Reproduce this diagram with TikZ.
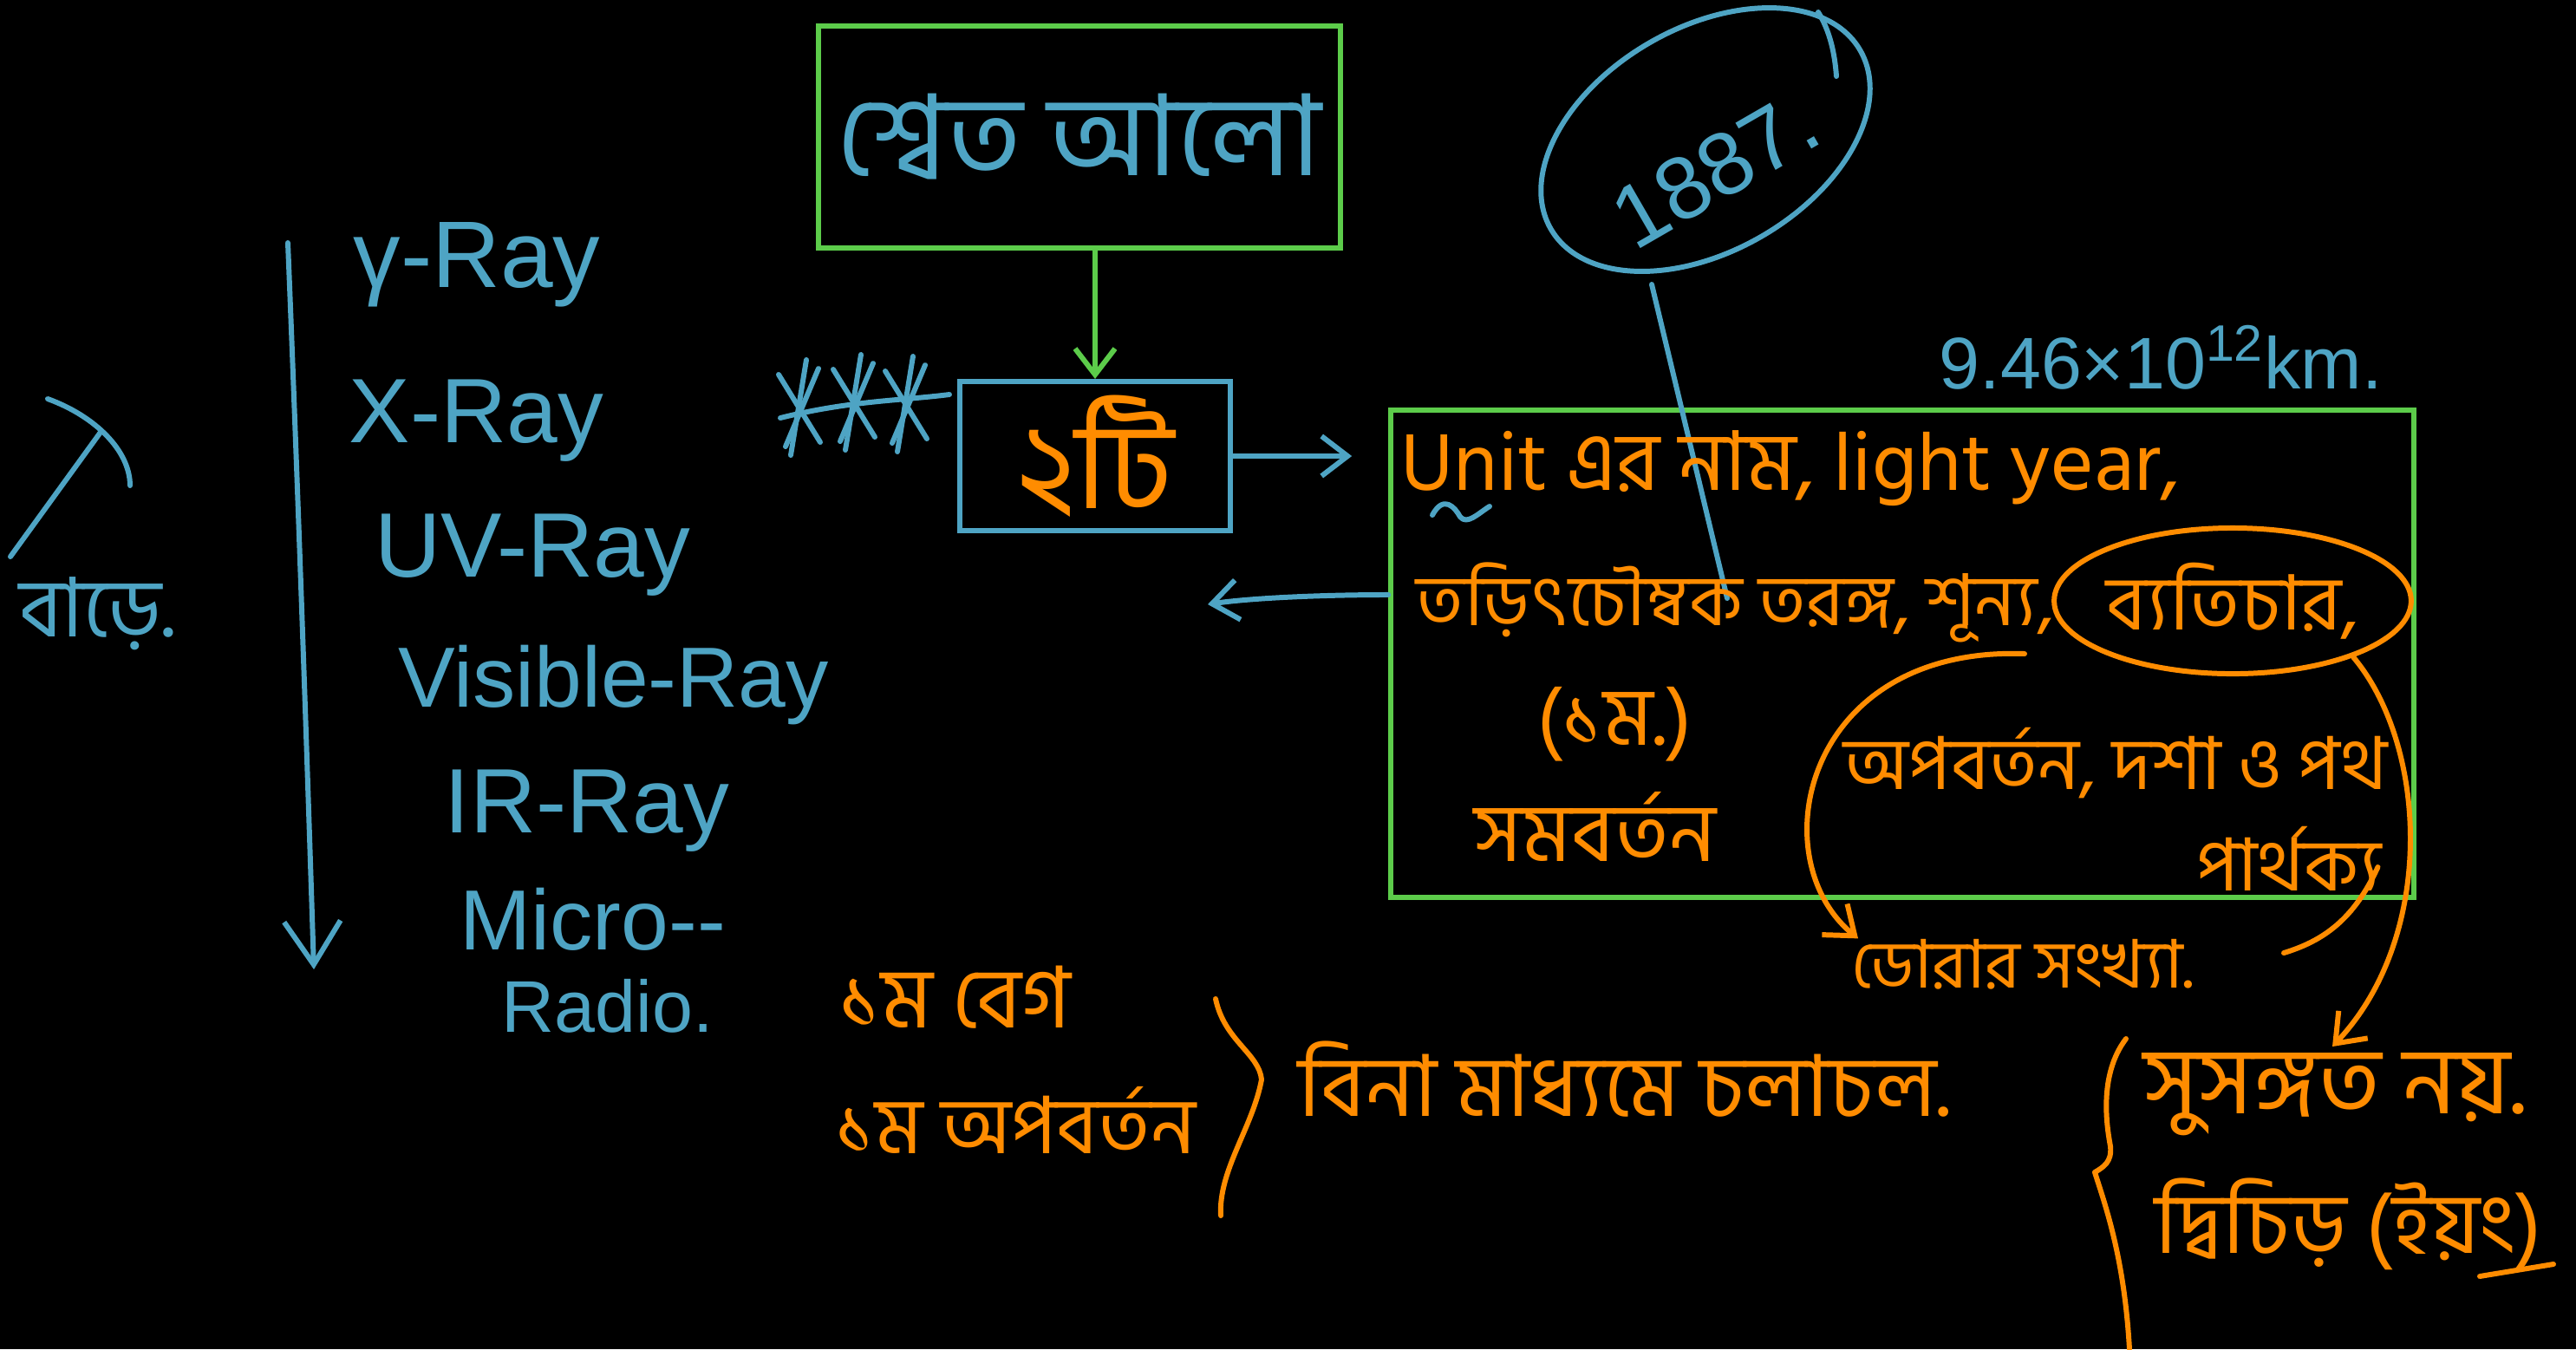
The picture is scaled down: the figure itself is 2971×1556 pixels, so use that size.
\documentclass[tikz,border=0pt]{standalone}
\usepackage{fontspec}
\newfontfamily\bn[Script=Bengali]{Hind Siliguri}
\newfontfamily\lat{Liberation Sans}
\usetikzlibrary{arrows.meta,shapes.geometric}
\definecolor{cy}{RGB}{78,164,196}
\definecolor{gr}{RGB}{92,204,74}
\definecolor{og}{RGB}{255,140,0}
\newcommand{\myfs}[1]{\fontsize{#1}{#1}\selectfont}
\tikzset{
  cl/.style={draw=cy, line width=1.7pt, line cap=round, line join=round},
  ol/.style={draw=og, line width=1.7pt, line cap=round, line join=round},
  gl/.style={draw=gr, line width=1.7pt, line cap=round},
  arw/.style={-{Straight Barb[length=3mm,width=4.6mm]}},
  ctxt/.style={text=cy, inner sep=0pt},
  otxt/.style={text=og, inner sep=0pt},
  gbox/.style={draw=gr, line width=1.7pt, inner sep=0pt},
  cbox/.style={draw=cy, line width=1.7pt, inner sep=0pt},
}
\begin{document}
\begin{tikzpicture}[x=0.01cm,y=-0.01cm]
\fill[black] (0,0) rectangle (2971,1556);
\useasboundingbox (0,0) rectangle (2971,1556);

% ---- left diagonal arrow and label
\coordinate (la0) at (12,642);
\coordinate (la1) at (117,497);
\coordinate (lh0) at (55,460);
\coordinate (lh1) at (150,560);
\draw[cl] (la0) -- (la1);
\draw[cl] (lh0) .. controls (110,480) and (150,520) .. (lh1);
\node[ctxt, font=\bn\myfs{27}] (barhe) at (112,708) {বাড়ে.};

% ---- spectrum list
\coordinate (sp0) at (332,280);
\coordinate (sp1) at (362,1118);
\draw[cl, -{Straight Barb[length=5mm,width=6.5mm]}] (sp0) .. controls (345,600) and (355,900) .. (sp1);
\node[ctxt, anchor=west, font=\lat\myfs{31}] (gam) at (407,305) {γ-Ray};
\node[ctxt, anchor=west, font=\lat\myfs{30}] (xr) at (402,485) {X-Ray};
\node[ctxt, anchor=west, font=\lat\myfs{30}] (uv) at (432,640) {UV-Ray};
\node[ctxt, anchor=west, font=\lat\myfs{28}] (vis) at (459,790) {Visible-Ray};
\node[ctxt, anchor=west, font=\lat\myfs{30}] (ir) at (512,935) {IR-Ray};
\node[ctxt, anchor=west, font=\lat\myfs{28}] (mic) at (530,1060) {Micro--};
\node[ctxt, anchor=west, font=\lat\myfs{24}] (rad) at (578,1160) {Radio.};

% ---- boxes
\node[gbox, minimum width=6.02cm, minimum height=2.56cm, text=cy, font=\bn\myfs{37}] (wl) at (1245,158) {শ্বেত আলো};
\node[cbox, minimum width=3.11cm, minimum height=1.72cm, text=og, font=\bn\myfs{40}] (two) at (1263,526) {২টি};
\node[gbox, minimum width=11.79cm, minimum height=5.61cm] (info) at (2194,754) {};

% ---- stars
\foreach \cx/\cy in {922/470, 985/464, 1045/466} {
  \draw[cl] (\cx+8,\cy-55) -- (\cx-10,\cy+55);
  \draw[cl] (\cx-24,\cy-38) -- (\cx+24,\cy+40);
  \draw[cl] (\cx+22,\cy-45) -- (\cx-16,\cy+45);
}
\draw[cl] (900,482) .. controls (980,462) and (1040,462) .. (1095,455);

% ---- connectors between boxes
\draw[gl, arw] (two.north |- wl.south) -- (two.north);
\draw[cl, arw, shorten >=0.42cm] (two.east) -- (two.east -| info.west);
\coordinate (lft) at (1393,697);
\draw[cl, arw] ([yshift=0.68cm]info.west) .. controls (1520,686) and (1440,690) .. (lft);

% ---- ellipse with year
\coordinate (ellc) at (1967,161);
\draw[cl, rotate around={30:(ellc)}] (ellc) ellipse [x radius=206, y radius=129];
\node[ctxt, rotate=30, font=\lat\myfs{29}] (yr) at (1978,196) {1887.};
\coordinate (ea0) at (2097,14);
\coordinate (ea1) at (2118,88);
\draw[cl] (ea0) .. controls (2110,35) and (2116,60) .. (ea1);
\coordinate (ellfoot) at (1905,328);
\coordinate (tdm) at (1992,690);
\draw[cl] (ellfoot) -- (tdm);

% ---- light year value
\node[ctxt, anchor=west, font=\lat\myfs{24}] (ly) at (2236,412) {9.46×10\textsuperscript{12}km.};

% ---- info box content
\node[otxt, anchor=west, font=\bn\myfs{27}] (l1) at (1615,540) {Unit এর নাম, light year,};
\coordinate (sq0) at (1652,594);
\coordinate (sq1) at (1718,584);
\draw[cl] (sq0) .. controls (1665,570) and (1678,585) .. (1684,596) .. controls (1692,606) and (1705,592) .. (sq1);
\node[otxt, anchor=west, font=\bn\myfs{23.5}] (l2) at (1633,695) {তড়িৎচৌম্বক তরঙ্গ, শূন্য,};
\node[otxt, draw=og, line width=1.7pt, ellipse, minimum width=2.68cm, minimum height=1.68cm, inner sep=0pt, font=\bn\myfs{25}] (intf) at (2575,693) {ব্যতিচার,};
\node[otxt, font=\bn\myfs{27}] (l3) at (1862,835) {(১ম.)};
\node[otxt, font=\bn\myfs{27}] (l4) at (1840,953) {সমবর্তন};
\node[otxt, font=\bn\myfs{24}] (l5) at (2440,880) {অপবর্তন, দশা ও পথ};
\node[otxt, font=\bn\myfs{24}] (l6) at (2640,990) {পার্থক্য};
\node[otxt, anchor=west, font=\bn\myfs{22}] (fr) at (2135,1112) {ডোরার সংখ্যা.};

% ---- orange curves
\coordinate (lp0) at (2335,754);
\draw[ol, arw] (lp0) .. controls (2080,745) and (2030,990) .. ([xshift=0.08cm]fr.north west);
\coordinate (hk1) at (2634,1099);
\draw[ol] ([xshift=-0.05cm,yshift=-0.1cm]l6.east) .. controls (2715,1060) and (2680,1085) .. (hk1);

% ---- bottom left
\node[otxt, anchor=west, font=\bn\myfs{28}] (b1) at (967,1150) {১ম বেগ};
\node[otxt, anchor=west, font=\bn\myfs{26}] (b2) at (963,1292) {১ম অপবর্তন};
\coordinate (br0) at (1402,1152);
\coordinate (br1) at (1408,1402);
\draw[ol] (br0) .. controls (1412,1200) and (1452,1215) .. (1455,1245) .. controls (1445,1300) and (1405,1350) .. (br1);
\node[otxt, anchor=west, font=\bn\myfs{28}] (b3) at (1497,1245) {বিনা মাধ্যমে চলাচল.};

% ---- bottom right
\coordinate (cb0) at (2452,1198);
\coordinate (cb1) at (2456,1556);
\draw[ol] (cb0) .. controls (2420,1240) and (2430,1300) .. (2434,1322) .. controls (2436,1340) and (2426,1346) .. (2416,1352) .. controls (2428,1390) and (2450,1450) .. (cb1);
\node[otxt, anchor=west, font=\bn\myfs{31}] (c1) at (2472,1262) {সুসঙ্গত নয়.};
\node[otxt, anchor=west, font=\bn\myfs{28}] (c2) at (2485,1412) {দ্বিচিড় (ইয়ং)};
\coordinate (ul0) at (2860,1472);
\coordinate (ul1) at (2945,1458);
\draw[ol] (ul0) -- (ul1);
\coordinate (condtip) at (2690,1207);
\draw[ol, arw] (intf.335) .. controls (2800,860) and (2810,1080) .. (condtip);
\end{tikzpicture}
\end{document}
